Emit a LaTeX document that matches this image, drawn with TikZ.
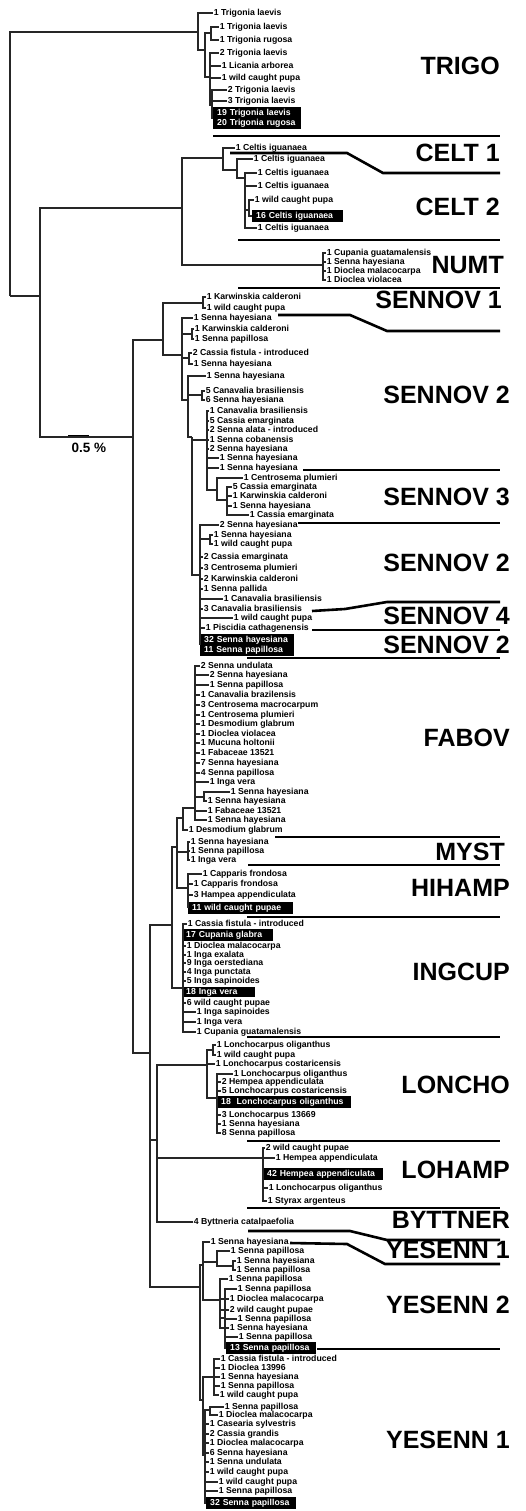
\documentclass[tikz,border=0pt]{standalone}
\usepackage{fontspec}
\setmainfont{Liberation Sans}
\usetikzlibrary{positioning}
\newcommand{\leaffont}{\fontsize{8.7}{10}\selectfont\bfseries}
\newcommand{\grpfont}{\fontsize{25}{26}\selectfont\bfseries}
\tikzset{
  br/.style={draw=black!85,line width=1.8pt},
  sepline/.style={draw=black,line width=2.6pt},
  lf/.style={anchor=west,inner sep=0.6pt,font=\leaffont,text height=6.4pt,text depth=1.6pt},
  blk/.style={anchor=west,fill=black,text=white,font=\leaffont,inner xsep=4pt,inner ysep=1.5pt,align=left,text width=#1},
  grp/.style={anchor=east,inner sep=0pt,font=\grpfont},
}
\begin{document}
\begin{tikzpicture}[x=1pt,y=-1pt]
\useasboundingbox (0,0) rectangle (525,1511);
\fill[white] (0,0) rectangle (525,1511);

% leaf labels
\foreach \n/\x/\y/\t in {tg1/213/13/1 Trigonia laevis, tg2/219/27/1 Trigonia laevis, tg3/219/40/1 Trigonia rugosa,
  tg4/219/53/2 Trigonia laevis, tg5/221/66/1 Licania arborea, tg6/221/78/1 wild caught pupa,
  tg7/227/90/2 Trigonia laevis, tg8/227/101/3 Trigonia laevis}
  \node[lf] (\n) at (\x,\y) {\t};
\node[blk=80pt] (tgb) at (213,118) {19 Trigonia laevis\\20 Trigonia rugosa};

\foreach \n/\x/\y/\t in {ce1/235/148/1 Celtis iguanaea, ce2/253/159/1 Celtis iguanaea, ce3/257/173/1 Celtis iguanaea,
  ce4/257/186/1 Celtis iguanaea, ce5/254/200/1 wild caught pupa, ce7/257/228/1 Celtis iguanaea,
  nu1/326/253/1 Cupania guatamalensis, nu2/326/262/1 Senna hayesiana, nu3/326/271/1 Dioclea malacocarpa,
  nu4/326/280/1 Dioclea violacea}
  \node[lf] (\n) at (\x,\y) {\t};
\node[blk=83pt] (ceb) at (252,216) {16 Celtis iguanaea};

\foreach \n/\x/\y/\t in {sn1/206/297/1 Karwinskia calderoni, sn2/206/308/1 wild caught pupa, sn3/193/318/1 Senna hayesiana,
  sn4/194/329/1 Karwinskia calderoni, sn5/194/339/1 Senna papillosa, sn6/192/353/2 Cassia fistula - introduced,
  sn7/193/364/1 Senna hayesiana, sn8/206/376/1 Senna hayesiana, sn9/205/391/5 Canavalia brasiliensis,
  sn10/205/400/6 Senna hayesiana, sn11/209/411/1 Canavalia brasiliensis, sn12/209/421/5 Cassia emarginata,
  sn13/209/430/2 Senna alata - introduced, sn14/209/440/1 Senna cobanensis, sn15/209/449/2 Senna hayesiana,
  sn16/219/458/1 Senna hayesiana, sn17/219/468/1 Senna hayesiana, sn18/243/478/1 Centrosema plumieri,
  sn19/232/487/5 Cassia emarginata, sn20/232/496/1 Karwinskia calderoni, sn21/232/506/1 Senna hayesiana,
  sn22/249/515/1 Cassia emarginata, sn23/219/525/2 Senna hayesiana, sn24/213/535/1 Senna hayesiana,
  sn25/213/544/1 wild caught pupa, sn26/203/557/2 Cassia emarginata, sn27/203/568/3 Centrosema plumieri,
  sn28/203/579/2 Karwinskia calderoni, sn29/203/589/1 Senna pallida, sn30/223/599/1 Canavalia brasiliensis,
  sn31/203/609/3 Canavalia brasiliensis, sn32/233/618/1 wild caught pupa, sn33/205/628/1 Piscidia cathagenensis}
  \node[lf] (\n) at (\x,\y) {\t};
\node[blk=86pt] (snb) at (200,645) {32 Senna hayesiana\\11 Senna papillosa};

\foreach \n/\x/\y/\t in {fb1/200/666/2 Senna undulata, fb2/209/675/2 Senna hayesiana, fb3/209/685/1 Senna papillosa,
  fb4/200/695/1 Canavalia brazilensis, fb5/200/705/3 Centrosema macrocarpum, fb6/200/715/1 Centrosema plumieri,
  fb7/200/724/1 Desmodium glabrum, fb8/200/734/1 Dioclea violacea, fb9/200/743/1 Mucuna holtonii,
  fb10/200/753/1 Fabaceae 13521, fb11/200/763/7 Senna hayesiana, fb12/200/773/4 Senna papillosa,
  fb13/209/782/1 Inga vera, fb14/230/792/1 Senna hayesiana, fb15/207/801/1 Senna hayesiana,
  fb16/207/811/1 Fabaceae 13521, fb17/207/820/1 Senna hayesiana, fb18/188/830/1 Desmodium glabrum,
  my1/190/842/1 Senna hayesiana, my2/190/851/1 Senna papillosa, my3/190/860/1 Inga vera,
  hh1/202/874/1 Capparis frondosa, hh2/193/884/1 Capparis frondosa, hh3/193/895/3 Hampea appendiculata}
  \node[lf] (\n) at (\x,\y) {\t};
\node[blk=97pt] (hhb) at (188,908) {11 wild caught pupae};

\foreach \n/\x/\y/\t in {ic1/187/924/1 Cassia fistula - introduced, ic2/186/946/1 Dioclea malacocarpa,
  ic3/186/955/1 Inga exalata, ic4/186/963/9 Inga oerstediana, ic5/186/972/4 Inga punctata,
  ic6/186/981/5 Inga sapinoides, ic7/186/1003/6 wild caught pupae, ic8/196/1012/1 Inga sapinoides,
  ic9/196/1022/1 Inga vera, ic10/196/1032/1 Cupania guatamalensis}
  \node[lf] (\n) at (\x,\y) {\t};
\node[blk=83pt] (icb1) at (182,935) {17 Cupania glabra};
\node[blk=65pt] (icb2) at (182,992) {18 Inga vera};

\foreach \n/\x/\y/\t in {lc1/216/1045/1 Lonchocarpus oliganthus, lc2/216/1055/1 wild caught pupa,
  lc3/215/1064/1 Lonchocarpus costaricensis, lc4/233/1074/1 Lonchocarpus oliganthus,
  lc5/221/1082/2 Hempea appendiculata, lc6/221/1091/5 Lonchocarpus costaricensis,
  lc7/221/1115/3 Lonchocarpus 13669, lc8/221/1124/1 Senna hayesiana, lc9/221/1133/8 Senna papillosa,
  lo1/265/1148/2 wild caught pupae, lo2/275/1158/1 Hempea appendiculata,
  lo3/268/1188/1 Lonchocarpus oliganthus, lo4/267/1201/1 Styrax argenteus,
  by1/193/1222/4 Byttneria catalpaefolia}
  \node[lf] (\n) at (\x,\y) {\t};
\node[blk=126pt] (lcb) at (217,1102) {18\ \ Lonchocarpus oliganthus};
\node[blk=112pt] (lob) at (263,1174) {42 Hempea appendiculata};

\foreach \n/\x/\y/\t in {ys1/210/1242/1 Senna hayesiana, ys2/230/1251/1 Senna papillosa, ys3/236/1261/1 Senna hayesiana,
  ys4/236/1270/1 Senna papillosa, ys5/228/1279/1 Senna papillosa, ys6/237/1289/1 Senna papillosa,
  ys7/229/1299/1 Dioclea malacocarpa, ys8/229/1310/2 wild caught pupae, ys9/237/1319/1 Senna papillosa,
  ys10/229/1328/1 Senna hayesiana, ys11/238/1337/1 Senna papillosa,
  ys12/220/1359/1 Cassia fistula - introduced, ys13/220/1368/1 Dioclea 13996, ys14/220/1377/1 Senna hayesiana,
  ys15/220/1386/1 Senna papillosa, ys16/219/1395/1 wild caught pupa, ys17/224/1407/1 Senna papillosa,
  ys18/218/1415/1 Dioclea malacocarpa, ys19/209/1424/1 Casearia sylvestris, ys20/209/1434/2 Cassia grandis,
  ys21/209/1443/1 Dioclea malacocarpa, ys22/209/1453/6 Senna hayesiana, ys23/209/1462/1 Senna undulata,
  ys24/209/1472/1 wild caught pupa, ys25/218/1482/1 wild caught pupa, ys26/218/1491/1 Senna papillosa}
  \node[lf] (\n) at (\x,\y) {\t};
\node[blk=82pt] (ysb1) at (226,1348) {13 Senna papillosa};
\node[blk=82pt] (ysb2) at (206,1503) {32 Senna papillosa};

% group names
\foreach \x/\y/\t in {500/66/TRIGO, 500/153/CELT 1, 500/207/CELT 2, 504/265/NUMT, 502/300/SENNOV 1,
  510/395/SENNOV 2, 510/497/SENNOV 3, 510/563/SENNOV 2, 510/616/SENNOV 4, 510/645/SENNOV 2,
  510/738/FABOV, 505/852/MYST, 510/888/HIHAMP, 510/972/INGCUP, 510/1085/LONCHO, 510/1170/LOHAMP,
  510/1220/BYTTNER, 510/1250/YESENN 1, 510/1305/YESENN 2, 510/1440/YESENN 1}
  \node[grp] at (\x,\y) {\t};

% group boundaries
\draw[sepline] (213,136) -- (500,136);
\draw[sepline] (230,153) -- (347,153) -- (383,173) -- (500,173);
\draw[sepline] (238,240) -- (500,240);
\draw[sepline] (238,288) -- (500,288);
\draw[sepline] (278,315) -- (350,315) -- (387,331) -- (500,331);
\draw[sepline] (303,470) -- (500,470);
\draw[sepline] (298,523) -- (500,523);
\draw[sepline] (312,611) -- (345,609) -- (387,602) -- (500,602);
\draw[sepline] (312,630) -- (500,630);
\draw[sepline] (247,658) -- (500,658);
\draw[sepline] (275,837) -- (500,837);
\draw[sepline] (248,865) -- (500,865);
\draw[sepline] (247,917) -- (500,917);
\draw[sepline] (247,1037) -- (500,1037);
\draw[sepline] (247,1141) -- (500,1141);
\draw[sepline] (247,1208) -- (500,1208);
\draw[sepline] (248,1231) -- (350,1231) -- (387,1240) -- (500,1240);
\draw[sepline] (290,1243) -- (347,1244) -- (385,1264) -- (500,1264);
\draw[sepline] (317,1349) -- (500,1349);

% scale
\node[font=\fontsize{13.5}{14}\selectfont\bfseries,inner sep=0pt] (scale) at (89,448) {0.5 \%};
\draw[line width=2.4pt] (68,436) -- (89,436);

% tree: root, TRIGO
\coordinate (root) at (10,296);
\coordinate (trA) at (198,32);
\coordinate (trB) at (205,50);
\coordinate (trC) at (211,33);
\coordinate (trD) at (210,77);
\coordinate (trE) at (212,105);
\draw[br] (root) |- (trA);
\draw[br] (trA) |- (tg1.west);
\draw[br] (trA) |- (trB);
\draw[br] (trB) |- (trC);
\draw[br] (trB) |- (trD);
\draw[br] (trD) |- (trE);
\foreach \c in {tg2,tg3} \draw[br] (trC) |- (\c.west);
\foreach \c in {tg4,tg5,tg6} \draw[br] (trD) |- (\c.west);
\foreach \c in {tg7,tg8,tgb} \draw[br] (trE) |- (\c.west);

% CELT, NUMT
\coordinate (nA) at (40,296);
\coordinate (ceN) at (182,208);
\coordinate (snS) at (133,437);
\coordinate (ceA) at (223,158);
\coordinate (ceB) at (237,170);
\coordinate (ceC) at (245,178);
\coordinate (ceD) at (249,210);
\coordinate (nuA) at (323,265);
\draw[br] (root) -- (nA);
\draw[br] (nA) |- (ceN);
\draw[br] (nA) |- (snS);
\draw[br] (ceN) |- (ceA);
\draw[br] (ceN) |- (nuA);
\draw[br] (ceA) |- (ce1.west);
\draw[br] (ceA) |- (ceB);
\draw[br] (ceB) |- (ce2.west);
\draw[br] (ceB) |- (ceC);
\draw[br] (ceC) |- (ceD);
\foreach \c in {ce3,ce4,ce7} \draw[br] (ceC) |- (\c.west);
\foreach \c in {ce5,ceb} \draw[br] (ceD) |- (\c.west);
\foreach \c in {nu1,nu2,nu3,nu4} \draw[br] (nuA) |- (\c.west);

% SENNOV
\coordinate (snA) at (163,340);
\coordinate (snK) at (203,303);
\coordinate (snB) at (182,355);
\coordinate (snP1) at (192,334);
\coordinate (snP2) at (189,358);
\coordinate (snC) at (188,400);
\coordinate (snP3) at (202,395);
\coordinate (snD) at (192,437);
\coordinate (snE) at (207,440);
\coordinate (snG) at (217,490);
\coordinate (snH) at (227,500);
\coordinate (snF) at (200,575);
\coordinate (snP4) at (210,539);
\draw[br] (snS) |- (snA);
\draw[br] (snA) |- (snK);
\draw[br] (snA) |- (snB);
\draw[br] (snB) |- (snP1);
\draw[br] (snB) |- (snP2);
\draw[br] (snB) |- (snC);
\draw[br] (snC) |- (snP3);
\draw[br] (snC) |- (snD);
\draw[br] (snD) |- (snE);
\draw[br] (snD) |- (snF);
\draw[br] (snE) |- (snG);
\draw[br] (snG) |- (snH);
\draw[br] (snF) |- (snP4);
\foreach \c in {sn1,sn2} \draw[br] (snK) |- (\c.west);
\draw[br] (snB) |- (sn3.west);
\foreach \c in {sn4,sn5} \draw[br] (snP1) |- (\c.west);
\foreach \c in {sn6,sn7} \draw[br] (snP2) |- (\c.west);
\draw[br] (snC) |- (sn8.west);
\foreach \c in {sn9,sn10} \draw[br] (snP3) |- (\c.west);
\foreach \c in {sn11,sn12,sn13,sn14,sn15,sn16,sn17} \draw[br] (snE) |- (\c.west);
\draw[br] (snG) |- (sn18.west);
\foreach \c in {sn19,sn20,sn21,sn22} \draw[br] (snH) |- (\c.west);
\foreach \c in {sn23,sn26,sn27,sn28,sn29,sn30,sn31,sn32,sn33,snb} \draw[br] (snF) |- (\c.west);
\foreach \c in {sn24,sn25} \draw[br] (snP4) |- (\c.west);

% FABOV, MYST, HIHAMP, INGCUP
\coordinate (nB) at (150,1053);
\coordinate (fiA) at (172,925);
\coordinate (fiB) at (177,847);
\coordinate (fbA) at (183,818);
\coordinate (fbB) at (195,808);
\coordinate (fbP) at (204,797);
\coordinate (myA) at (188,852);
\coordinate (hhA) at (188,888);
\coordinate (icA) at (183,988);
\draw[br] (snS) |- (nB);
\draw[br] (nB) |- (fiA);
\draw[br] (fiA) |- (fiB);
\draw[br] (fiA) |- (icA);
\draw[br] (fiB) |- (fbA);
\draw[br] (fiB) |- (myA);
\draw[br] (fiB) |- (hhA);
\draw[br] (fbA) |- (fbB);
\draw[br] (fbA) |- (fb18.west);
\draw[br] (fbB) |- (fbP);
\foreach \c in {fb1,fb2,fb3,fb4,fb5,fb6,fb7,fb8,fb9,fb10,fb11,fb12,fb13,fb16,fb17} \draw[br] (fbB) |- (\c.west);
\foreach \c in {fb14,fb15} \draw[br] (fbP) |- (\c.west);
\foreach \c in {my1,my2,my3} \draw[br] (myA) |- (\c.west);
\foreach \c in {hh1,hh2,hh3,hhb} \draw[br] (hhA) |- (\c.west);
\foreach \c in {ic1,icb1,ic2,ic3,ic4,ic5,ic6,icb2,ic7,ic8,ic9,ic10} \draw[br] (icA) |- (\c.west);

% LONCHO, LOHAMP, BYTTNER
\coordinate (nD) at (157,1140);
\coordinate (lcA) at (207,1065);
\coordinate (lcP) at (213,1050);
\coordinate (lcB) at (217,1098);
\coordinate (loA) at (263,1158);
\draw[br] (nB) |- (nD);
\draw[br] (nD) |- (lcA);
\draw[br] (nD) |- (loA);
\draw[br] (nD) |- (by1.west);
\draw[br] (lcA) |- (lcP);
\draw[br] (lcA) |- (lc3.west);
\draw[br] (lcA) |- (lcB);
\foreach \c in {lc1,lc2} \draw[br] (lcP) |- (\c.west);
\foreach \c in {lc4,lc5,lc6,lcb,lc7,lc8,lc9} \draw[br] (lcB) |- (\c.west);
\foreach \c in {lo1,lo2,lob,lo3,lo4} \draw[br] (loA) |- (\c.west);

% YESENN
\coordinate (ysA) at (200,1287);
\coordinate (ysB) at (203,1265);
\coordinate (ysC) at (217,1262);
\coordinate (ysC2) at (233,1266);
\coordinate (ysD) at (220,1300);
\coordinate (ysE) at (225,1318);
\coordinate (ysF) at (203,1400);
\coordinate (ysG) at (214,1377);
\coordinate (ysH) at (205,1455);
\coordinate (ysI) at (210,1410);
\draw[br] (nB) |- (ysA);
\draw[br] (ysA) |- (ysB);
\draw[br] (ysA) |- (ysF);
\draw[br] (ysB) |- (ys1.west);
\draw[br] (ysB) |- (ysC);
\draw[br] (ysB) |- (ysD);
\draw[br] (ysC) |- (ys2.west);
\draw[br] (ysC) |- (ysC2);
\foreach \c in {ys3,ys4} \draw[br] (ysC2) |- (\c.west);
\foreach \c in {ys5,ys7,ys8,ys10} \draw[br] (ysD) |- (\c.west);
\draw[br] (ysD) |- (ysE);
\foreach \c in {ys6,ys9,ys11,ysb1} \draw[br] (ysE) |- (\c.west);
\draw[br] (ysF) |- (ysG);
\draw[br] (ysF) |- (ysH);
\foreach \c in {ys12,ys13,ys14,ys15,ys16} \draw[br] (ysG) |- (\c.west);
\draw[br] (ysH) |- (ysI);
\foreach \c in {ys17,ys18} \draw[br] (ysI) |- (\c.west);
\foreach \c in {ys19,ys20,ys21,ys22,ys23,ys24,ys25,ys26,ysb2} \draw[br] (ysH) |- (\c.west);
\end{tikzpicture}
\end{document}
